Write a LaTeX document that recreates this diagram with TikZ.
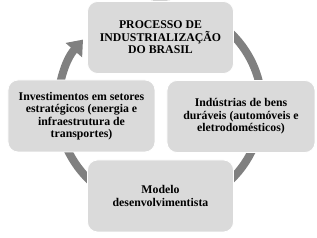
\documentclass[tikz,border=0pt]{standalone}
\usepackage{fontspec}
\setmainfont{Liberation Serif}
\usetikzlibrary{arrows.meta}

\begin{document}
\begin{tikzpicture}[x=1pt, y=1pt, line join=round,
    caixa/.style={fill=cinza, draw=white, line width=0.8pt, rounded corners=10pt,
        minimum width=146pt, minimum height=72pt, align=center,
        font=\fontsize{11.8}{12.4}\selectfont\bfseries},
    anel/.style={draw=anelcor, line width=8pt, -{Triangle[width=21pt, length=14pt]}}]
    \definecolor{cinza}{RGB}{218,218,218}
    \definecolor{anelcor}{RGB}{128,128,128}
    \useasboundingbox (0,0) rectangle (317,238);

    % centro do ciclo
    \coordinate (O) at (160,131.5);

    % anel com seta (fica atras das caixas)
    \draw[anel] ([shift={(95:102)}]O) arc[start angle=95, end angle=-221, radius=102];

    % caixas
    \node[caixa] (proc) at (160.5,200.5) {PROCESSO DE\\INDUSTRIALIZAÇÃO\\DO BRASIL};
    \node[caixa, minimum width=148pt] (ind) at (241,121.5) {Indústrias de bens\\duráveis (automóveis e\\eletrodomésticos)};
    \node[caixa] (modelo) at (160.5,42) {Modelo\\desenvolvimentista};
    \node[caixa, minimum width=147pt] (invest) at (81.5,122) {Investimentos em setores\\estratégicos (energia e\\infraestrutura de\\transportes)};
\end{tikzpicture}
\end{document}
